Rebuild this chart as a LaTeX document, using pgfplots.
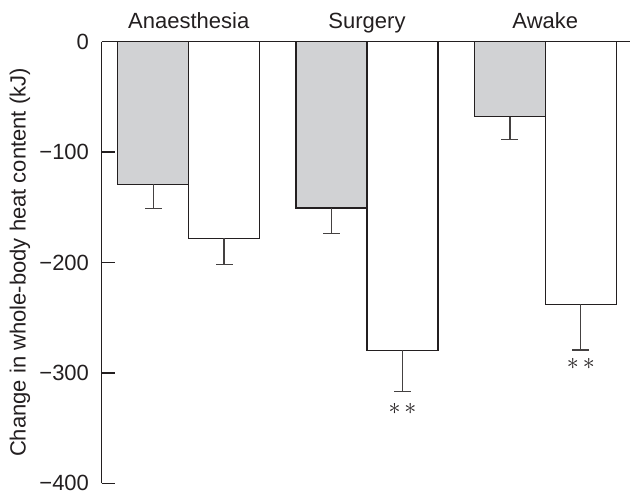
\documentclass[border=0pt]{standalone}
\usepackage{pgfplots}
\pgfplotsset{compat=1.18}
\usepackage{fontspec}
\setmainfont{Liberation Sans}
\definecolor{barGray}{RGB}{209,210,212}
\definecolor{txt}{RGB}{35,31,32}
\begin{document}
\fontsize{11bp}{13bp}\selectfont
\begin{tikzpicture}
\begin{axis}[
  scale only axis,
  width=264.15bp, height=220.8bp,
  xmin=0.512, xmax=3.475, ymin=-400, ymax=0,
  axis y line*=left, axis x line*=top,
  axis line style={line width=0.65pt, color=txt},
  xtick={1,2,3},
  xticklabels={Anaesthesia,Surgery,Awake},
  x tick style={draw=none},
  xticklabel style={font=\fontsize{11bp}{13bp}\selectfont, text=txt, text depth=0pt, yshift=2.5bp},
  ytick={-400,-300,-200,-100,0},
  yticklabels={−400,−300,−200,−100,0},
  yticklabel style={font=\fontsize{11bp}{13bp}\selectfont, text=txt, xshift=-2.5bp},
  y tick style={line width=0.65pt, color=txt},
  tick align=inside,
  major tick length=6.5bp,
  ylabel={Change in whole-body heat content (kJ)},
  ylabel style={at={(axis description cs:0,0.5)}, anchor=center, yshift=40.85bp, font=\fontsize{11bp}{13bp}\selectfont, text=txt},
  clip=false,
]
\addplot[ybar, bar width=0.398, bar shift=0pt, fill=barGray, draw=txt, line width=0.65pt,
  error bars/.cd, y dir=minus, y explicit,
  error bar style={line width=0.7pt, color=txt!85},
  error mark options={rotate=90, mark size=4.2bp, line width=0.7pt, color=txt!85}]
  coordinates {(0.801,-129.2) -= (0,22.1) (1.801,-150.6) -= (0,23.3) (2.801,-67.9) -= (0,20.5)};
\addplot[ybar, bar width=0.398, bar shift=0pt, fill=white, draw=txt, line width=0.65pt,
  error bars/.cd, y dir=minus, y explicit,
  error bar style={line width=0.7pt, color=txt!85},
  error mark options={rotate=90, mark size=4.2bp, line width=0.7pt, color=txt!85}]
  coordinates {(1.199,-178) -= (0,24) (2.199,-279.5) -= (0,37.5) (3.199,-237.9) -= (0,41.4)};
\node[text=txt, font=\fontsize{13bp}{15bp}\selectfont, inner sep=0pt] at (axis cs:2.199,-333) {$\ast\,\ast$};
\node[text=txt, font=\fontsize{13bp}{15bp}\selectfont, inner sep=0pt] at (axis cs:3.199,-292) {$\ast\,\ast$};
\end{axis}
\pgfresetboundingbox
\path[use as bounding box] (-50.85bp,-4.85bp) rectangle (264.15bp,241.65bp);
\end{tikzpicture}
\end{document}
